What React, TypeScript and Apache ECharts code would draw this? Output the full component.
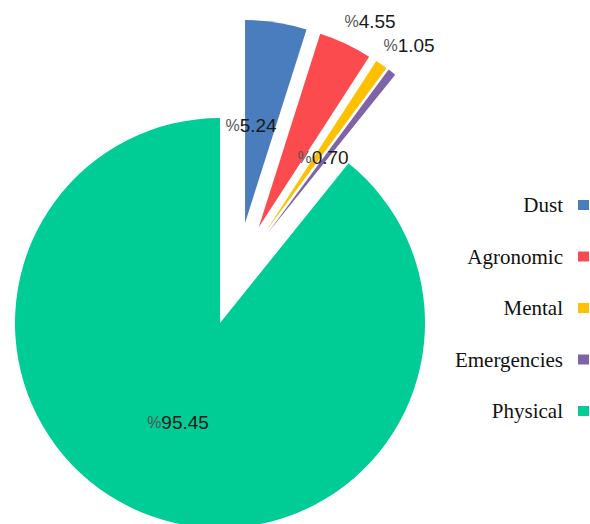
import React, { useEffect, useRef } from "react";
import * as echarts from "echarts";

const categories = ["Dust", "Agronomic", "Mental", "Emergencies", "Physical"];
const values = [5.24, 4.55, 1.05, 0.7, 95.45];
const colors = ["#4a7dbd", "#fb4b4e", "#ffc000", "#7f63a8", "#00cc96"];
const MAIN = "Physical";

// label centre positions (px) by data index
const labelPos: number[][] = [[251, 125], [370, 21], [409, 45], [323, 157], [178, 422]];

const HIDDEN = "rgba(0,0,0,0)";

const fmt = (p: any) => `{p|%}{v|${Number(p.value).toFixed(2)}}`;
const rich = {
  p: { fontSize: 16, color: "#555", fontFamily: "Liberation Sans" },
  v: { fontSize: 19, color: "#1a1a1a", fontFamily: "Liberation Sans" },
};

export default function App() {
  const ref = useRef<HTMLDivElement>(null);
  useEffect(() => {
    if (!ref.current) return;
    const chart = echarts.init(ref.current, undefined, { renderer: "svg" });
    const mainData = categories.map((name, i) => ({
      name,
      value: values[i],
      itemStyle: { color: name === MAIN ? colors[i] : HIDDEN },
    }));
    const smallData = categories.map((name, i) => ({
      name,
      value: values[i],
      selected: name !== MAIN,
      itemStyle: { color: name === MAIN ? HIDDEN : colors[i] },
    }));
    chart.setOption({
      animation: false,
      backgroundColor: "#ffffff",
      legend: {
        orient: "vertical",
        align: "right",
        right: 1,
        top: 193,
        padding: 0,
        itemWidth: 11,
        itemHeight: 10,
        itemGap: 27.5,
        selectedMode: false,
        data: categories.map((name, i) => ({
          name,
          icon: "rect",
          itemStyle: { color: colors[i] },
        })),
        textStyle: {
          fontFamily: "Liberation Serif",
          fontSize: 21,
          lineHeight: 24,
          color: "#111",
          padding: [0, 10, 0, 0],
        },
      },
      series: [
        {
          type: "pie",
          center: [220, 323],
          radius: 205,
          startAngle: 90,
          clockwise: true,
          silent: true,
          avoidLabelOverlap: false,
          itemStyle: { borderWidth: 0 },
          emphasis: { disabled: true },
          label: { show: true, position: "inside", formatter: fmt, rich },
          labelLine: { show: false },
          labelLayout: (params: any) => {
            const p = labelPos[params.dataIndex];
            return { x: p[0], y: p[1], align: "center", verticalAlign: "middle" };
          },
          z: 3,
          data: mainData,
        },
        {
          type: "pie",
          center: [237.4, 272.4],
          radius: 203,
          startAngle: 90,
          clockwise: true,
          selectedMode: "multiple",
          selectedOffset: 50,
          avoidLabelOverlap: false,
          itemStyle: { borderWidth: 0 },
          emphasis: { disabled: true },
          select: { itemStyle: { borderWidth: 0 } },
          label: { show: false },
          labelLine: { show: false },
          z: 2,
          data: smallData,
        },
      ],
    });
    return () => chart.dispose();
  }, []);
  return (
    <div
      ref={ref}
      style={{ position: "fixed", left: 0, top: 0, width: 590, height: 524 }}
    />
  );
}
